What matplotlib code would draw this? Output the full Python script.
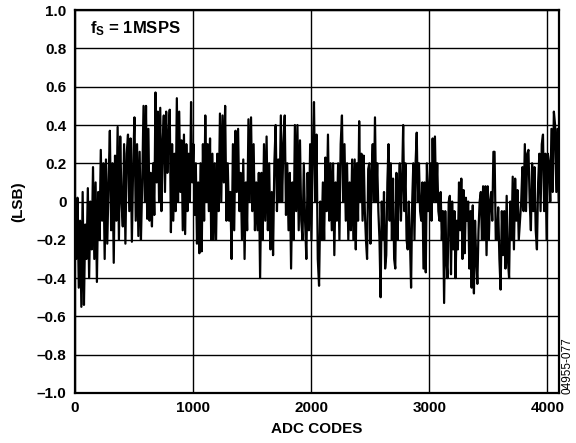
import numpy as np
import matplotlib
matplotlib.use("Agg")
from matplotlib import pyplot as plt
from matplotlib.ticker import FuncFormatter

# INL (LSB), one list per ~600-code stretch
inl_0 = [-0.05, -0.30, 0.02, -0.45, -0.10, -0.55, 0.05, -0.54, -0.12, -0.30,
         0.07, -0.40, 0.00, -0.25, 0.18, -0.30, 0.10, -0.42, 0.05, -0.20,
         0.27, -0.10, 0.20, -0.30, 0.22, -0.22, 0.10, 0.37, -0.15, 0.20,
         -0.32, 0.24, -0.10, 0.39, -0.20, 0.34, 0.00, -0.13, 0.30, -0.22,
         0.25, 0.35, -0.05, 0.33, -0.21, 0.20, 0.44, -0.10, 0.30, -0.18,
         0.26, -0.20, 0.10, 0.50]
inl_1 = [0.00, 0.50, -0.09, 0.38, -0.10, 0.15, -0.13, 0.20, -0.07, 0.57,
         0.10, 0.47, 0.00, 0.49, -0.05, 0.30, 0.45, 0.05, 0.47, 0.15,
         0.35, 0.48, -0.16, 0.30, -0.10, 0.25, -0.05, 0.54, 0.00, 0.47,
         0.05, 0.32, -0.15, 0.35, -0.17, 0.30, -0.05, 0.25, 0.00, 0.52,
         0.10, 0.30, -0.07, 0.20, -0.22, 0.10, -0.27, 0.20, -0.26, 0.30,
         -0.10, 0.45, 0.00, 0.30, -0.05, 0.33, -0.20, 0.25, -0.20]
inl_2 = [0.20, -0.20, 0.25, -0.05, 0.46, 0.00, 0.45, 0.10, 0.50, -0.10,
         0.20, -0.10, 0.05, -0.30, 0.30, -0.15, 0.37, 0.05, 0.38, -0.05,
         0.15, -0.20, 0.22, -0.30, 0.10, -0.15, 0.43, 0.00, 0.44, -0.05,
         0.30, -0.15, 0.10, -0.15, 0.15, -0.40, 0.15, -0.20, 0.30, -0.10,
         0.34, -0.15, 0.20, -0.25, 0.05, -0.28, 0.20, 0.40, -0.05, 0.22,
         0.00, 0.45, 0.00, 0.30]
inl_3 = [0.45, -0.07, 0.20, -0.15, 0.15, -0.35, 0.10, -0.20, 0.40, -0.05,
         0.40, -0.15, 0.32, -0.10, -0.20, 0.20, -0.10, -0.30, 0.15, -0.15,
         0.30, -0.20, 0.25, 0.52, 0.00, 0.35, -0.30, -0.44, 0.00, -0.20,
         0.10, -0.20, 0.23, -0.05, 0.35, -0.10, 0.20, -0.15, 0.20, -0.28,
         0.10, -0.10, 0.20, -0.20, 0.30, 0.45, 0.00, 0.30, -0.10, 0.20,
         -0.20, 0.10, -0.15, 0.22, -0.20]
inl_4 = [0.22, -0.25, 0.20, -0.10, 0.42, 0.00, 0.25, -0.10, 0.24, -0.05,
         -0.20, -0.30, 0.17, 0.20, -0.22, 0.15, 0.30, 0.00, 0.44, 0.00,
         0.20, -0.05, -0.20, -0.50, 0.00, -0.20, 0.05, -0.35, -0.28, 0.10,
         0.30, -0.10, 0.20, -0.20, 0.12, -0.30, -0.35, 0.15, -0.20, 0.05,
         0.20, -0.10, 0.10, 0.40, -0.05, 0.20, -0.20, -0.25, 0.00, -0.20,
         -0.45, 0.00, 0.20, -0.20, 0.20, 0.36, 0.00, 0.20, -0.05, -0.10,
         0.10, -0.35]
inl_5 = [0.10, -0.37, 0.20, -0.05, 0.05, 0.20, -0.10, 0.33, 0.00, 0.34,
         0.00, 0.20, -0.05, -0.10, 0.05, -0.20, -0.05, -0.53, -0.05, -0.30,
         -0.40, 0.00, 0.03, -0.38, 0.00, -0.25, -0.05, -0.40, -0.10, -0.25,
         0.10, -0.15, 0.12, -0.30, 0.06, -0.27, 0.02, -0.10, 0.00, -0.35,
         -0.05, -0.45, -0.02, -0.48, -0.10, -0.30, -0.43, -0.15, 0.00, 0.05,
         -0.20, 0.08, -0.20, 0.08, -0.28, 0.08, -0.20, 0.00, 0.05, -0.10,
         0.26]
inl_6 = [0.26, -0.20, -0.20, -0.03, -0.30, -0.46, -0.05, -0.28, -0.05, -0.35,
         0.03, -0.30, -0.40, 0.00, -0.20, 0.13, -0.25, 0.12, -0.10, 0.06,
         -0.20, -0.10, 0.00, 0.18, -0.05, 0.30, -0.05, 0.25, 0.27, 0.00,
         -0.15, 0.20, -0.05, 0.18, -0.15, -0.25, 0.10, 0.25, -0.05, 0.30,
         0.35, -0.05, 0.25, -0.20, 0.25, 0.20, 0.00, 0.38, 0.05, 0.47,
         0.40, 0.05, 0.38, 0.00]
segments = [inl_0, inl_1, inl_2, inl_3, inl_4, inl_5, inl_6]
seg_starts = [0, 592, 1184, 1776, 2368, 2960, 3552]
last_code = 4095

x_ticks = [0, 1000, 2000, 3000, 4000]
y_ticks = [-1.0, -0.8, -0.6, -0.4, -0.2, 0, 0.2, 0.4, 0.6, 0.8, 1.0]

plt.rcParams['font.family'] = ['Liberation Sans', 'DejaVu Sans']
plt.rcParams['font.weight'] = 'bold'
plt.rcParams['mathtext.fontset'] = 'custom'
plt.rcParams['mathtext.bf'] = 'Liberation Sans:bold'
plt.rcParams['mathtext.rm'] = 'Liberation Sans:bold'
plt.rcParams['mathtext.it'] = 'Liberation Sans:bold'


def seg_codes(i):
    end = seg_starts[i + 1] if i + 1 < len(seg_starts) else last_code
    return np.linspace(seg_starts[i], end, len(segments[i]),
                       endpoint=(i + 1 == len(segments)))


codes = np.concatenate([seg_codes(i) for i in range(len(segments))])
inl = np.concatenate(segments)

fig = plt.figure(figsize=(5.76, 4.43), dpi=100)
ax = fig.add_axes([0.130, 0.113, 0.840, 0.864])

ax.plot(codes, inl, color="black", linewidth=1.6)

ax.set_xlim(0, last_code)
ax.set_ylim(-1.0, 1.0)
ax.set_xticks(x_ticks)
ax.set_yticks(y_ticks)


def fmt_y(v, pos):
    if abs(v) < 1e-9:
        return "0"
    s = "%.1f" % abs(v)
    return ("\u2013" + s) if v < 0 else s


ax.yaxis.set_major_formatter(FuncFormatter(fmt_y))
ax.tick_params(length=0, labelsize=11, pad=6)
for lab in ax.get_xticklabels() + ax.get_yticklabels():
    lab.set_fontweight("bold")

ax.grid(True, color="black", linewidth=1.0)
ax.set_axisbelow(True)
for sp in ax.spines.values():
    sp.set_linewidth(1.6)

ax.set_xlabel("ADC CODES", fontsize=11, fontweight="bold", labelpad=5)
ax.set_ylabel("(LSB)", fontsize=11, fontweight="bold", labelpad=8)

ax.text(0.031, 0.953, r"$\mathbf{f_S}$ = 1MSPS", transform=ax.transAxes,
        fontsize=12, fontweight="bold", va="center", ha="left")

fig.text(0.986, 0.174, "04955-077", rotation=90, fontsize=8.5,
         fontweight="normal", ha="center", va="center")

fig.savefig("out.png", dpi=100)
